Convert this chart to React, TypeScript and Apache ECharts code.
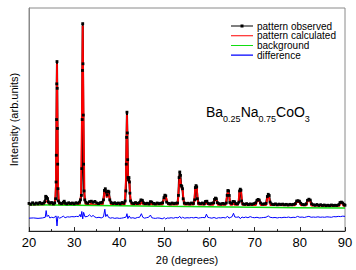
import React, { useEffect, useRef } from "react";
import * as echarts from "echarts";

const xTicks = [20, 30, 40, 50, 60, 70, 80, 90];
const legendNames = ["pattern observed", "pattern calculated", "background", "difference"];

const observed: number[][] = [
  [20,12.4],[20.4,12.0],[20.8,12.7],[21.2,12.1],[21.6,12.6],[22,12.2],[22.4,12.8],[22.8,12.3],[23.2,12.5],[23.5,13.2],[23.7,15.6],[23.9,15.2],[24.1,14.6],[24.3,13.1],[24.6,12.5],[25,12.8],[25.4,12.2],[25.7,12.7],[25.9,14.5],[26.0,22],[26.05,34],[26.1,50],[26.15,66],[26.2,76],[26.25,64],[26.3,46],[26.35,30],[26.42,19],[26.5,13.5],[26.8,12.6],[27.2,12.3],[27.6,12.9],[27.8,13.4],[28.0,12.5],[28.4,12.2],[28.8,12.7],[29.2,12.3],[29.6,12.6],[30,12.2],[30.4,12.7],[30.8,12.5],[31.2,13.0],[31.4,14.0],[31.6,16],[31.7,28],[31.78,50],[31.84,72],[31.9,93],[31.96,75],[32.02,52],[32.1,30],[32.2,18],[32.35,14],[32.6,12.9],[33,12.5],[33.4,13.2],[33.8,13.4],[34.2,12.9],[34.6,13.3],[35,12.6],[35.4,12.3],[35.8,12.7],[36.2,12.9],[36.5,14],[36.7,18.2],[36.9,19.0],[37.1,17.5],[37.3,16.2],[37.5,17.9],[37.7,17.6],[37.9,14.0],[38.2,12.8],[38.6,12.4],[39,12.7],[39.4,12.3],[39.8,12.6],[40.2,12.2],[40.6,12.8],[41,12.5],[41.3,13.5],[41.45,18],[41.55,30],[41.62,42],[41.7,53.3],[41.78,44],[41.86,32],[41.95,24],[42.05,23],[42.15,24],[42.25,22],[42.35,17],[42.5,13.5],[42.8,12.6],[43.2,12.3],[43.6,12.8],[44,12.4],[44.4,12.7],[44.8,14.0],[45.1,13.8],[45.4,12.6],[45.8,12.3],[46.2,12.5],[46.6,12.2],[46.9,13.2],[47.2,13.0],[47.6,12.4],[48,12.2],[48.4,12.6],[48.8,12.3],[49.2,12.5],[49.6,12.7],[49.9,15.0],[50.1,16.1],[50.3,15.8],[50.5,13.0],[50.9,12.4],[51.3,12.2],[51.7,12.6],[52.1,12.3],[52.5,12.5],[52.9,12.6],[53.1,16],[53.25,24],[53.4,26.5],[53.55,25],[53.7,20.5],[53.85,20],[54.0,19],[54.15,14.5],[54.4,12.6],[54.8,12.3],[55.2,12.5],[55.6,12.2],[56,12.6],[56.4,12.4],[56.7,14],[56.85,19.5],[57.0,20.4],[57.15,19.8],[57.3,14.5],[57.6,12.5],[58,12.3],[58.4,12.6],[58.8,12.2],[59.1,13.3],[59.4,13.4],[59.7,12.4],[60.1,12.2],[60.5,12.5],[60.9,12.7],[61.1,14.2],[61.3,14.8],[61.5,14.5],[61.7,12.8],[62.1,12.3],[62.5,12.1],[62.9,12.4],[63.3,12.2],[63.7,12.6],[63.9,16],[64.05,18.2],[64.2,18],[64.35,16],[64.5,12.8],[64.9,12.4],[65.2,13.3],[65.5,13.2],[65.8,12.3],[66.2,12.2],[66.5,13],[66.65,18],[66.8,18.8],[66.95,18.3],[67.1,13.5],[67.4,12.2],[67.8,12.0],[68.2,12.3],[68.6,11.9],[69,12.2],[69.4,12.0],[69.8,12.3],[70.2,12.6],[70.5,13.8],[70.75,14.2],[71.0,13.9],[71.3,12.6],[71.7,12.1],[72.1,12.2],[72.5,12.4],[72.8,15.5],[73.0,16.5],[73.2,16.0],[73.4,13],[73.8,12.1],[74.2,11.9],[74.6,12.2],[75,11.8],[75.4,12.1],[75.8,11.9],[76.2,12.1],[76.6,11.8],[77,12.0],[77.4,11.7],[77.8,12.0],[78.2,11.8],[78.6,12.0],[79,12.3],[79.3,13.5],[79.6,13.6],[79.9,13.4],[80.2,12.5],[80.6,11.9],[81,11.8],[81.4,12.2],[81.7,13.8],[82.0,14.3],[82.3,13.9],[82.6,12.2],[83,11.8],[83.4,11.6],[83.8,11.9],[84.2,11.5],[84.6,11.8],[85,11.5],[85.4,11.7],[85.8,11.4],[86.2,11.6],[86.6,11.4],[87,11.7],[87.4,11.5],[87.8,11.6],[88.2,11.5],[88.6,11.8],[88.9,12.8],[89.2,13.0],[89.5,12.6],[89.8,11.9],[90,11.6]
];

const calculated: number[][] = [
  [20,11.9],[23.3,11.9],[23.7,13.5],[24.1,13.2],[24.5,11.9],[25.75,11.9],[25.95,20],[26.08,48],[26.2,75],[26.32,47],[26.45,20],[26.65,11.9],[27.55,11.9],[27.8,12.6],[28.05,11.9],[31.25,11.9],[31.5,16],[31.7,48],[31.9,92],[32.1,48],[32.3,16],[32.55,11.9],[33.55,11.9],[33.8,12.5],[34.05,11.9],[36.35,11.9],[36.7,17.5],[36.95,18],[37.2,15],[37.5,17],[37.85,15],[38.15,11.9],[41.2,11.9],[41.45,22],[41.7,52],[41.92,26],[42.05,22],[42.2,23],[42.45,15],[42.7,11.9],[44.65,11.9],[45.0,13],[45.35,11.9],[46.75,11.9],[47.0,12.4],[47.25,11.9],[49.6,11.9],[49.95,14.8],[50.2,15.5],[50.45,14.5],[50.8,11.9],[52.95,11.9],[53.2,20],[53.4,25.5],[53.6,22],[53.8,19],[54.05,18],[54.35,11.9],[56.55,11.9],[56.8,19],[57.0,20],[57.2,19],[57.45,11.9],[58.9,11.9],[59.3,12.7],[59.7,11.9],[60.85,11.8],[61.1,14],[61.3,14.5],[61.5,14],[61.8,11.8],[63.6,11.8],[63.9,16.5],[64.1,17.5],[64.3,16.5],[64.6,11.8],[65.05,11.8],[65.3,12.6],[65.55,11.8],[66.35,11.8],[66.6,17.5],[66.8,18.3],[67.0,17.5],[67.25,11.8],[70.25,11.6],[70.55,13.5],[70.8,13.7],[71.05,13.4],[71.35,11.6],[72.55,11.6],[72.8,15],[73.0,16],[73.2,15],[73.45,11.6],[78.95,11.5],[79.3,13],[79.6,13.1],[79.9,13],[80.25,11.5],[81.45,11.5],[81.75,13.6],[82.0,14],[82.25,13.6],[82.55,11.4],[88.75,11.3],[89.0,12.5],[89.2,12.7],[89.4,12.5],[89.65,11.3],[90,11.3]
];

const background: number[][] = [
  [20,11.8],[30,11.6],[40,11.4],[50,11.1],[60,10.9],[70,10.7],[80,10.5],[90,10.3]
];

const difference: number[][] = [
  [20,5.8],[21,5.9],[22,5.7],[23,5.9],[23.6,6.2],[23.8,9.2],[24.0,6.5],[24.3,7.2],[24.6,5.9],[25,6.2],[25.5,6.0],[26.0,6.8],[26.2,2.3],[26.4,6.6],[26.8,5.8],[27.2,6.2],[27.6,6.7],[28,6.0],[28.5,6.4],[29,6.3],[29.5,6.5],[30,6.4],[30.5,6.6],[31,6.5],[31.3,7.5],[31.5,6.3],[31.7,8.8],[31.9,5.5],[32.1,8.4],[32.4,6.4],[33,6.6],[33.4,7.3],[33.8,6.5],[34.2,7.0],[34.6,6.3],[35,6.0],[35.5,6.2],[36,5.9],[36.5,6.4],[36.8,9.8],[37.0,6.5],[37.3,7.5],[37.6,6.2],[38,5.8],[38.5,6.0],[39,5.7],[39.5,5.9],[40,5.7],[40.5,5.8],[41,6.0],[41.5,6.3],[41.7,7.8],[41.9,5.6],[42.2,6.8],[42.5,5.8],[43,6.0],[43.5,5.7],[44,6.1],[44.5,6.2],[44.9,7.8],[45.2,6.2],[45.6,5.8],[46,6.0],[46.5,6.2],[46.9,7.2],[47.2,6.0],[47.6,5.8],[48,5.7],[48.5,5.9],[49,5.8],[49.5,5.5],[50,6.0],[50.3,5.4],[50.6,5.9],[51,5.8],[51.5,6.0],[52,5.8],[52.5,6.1],[53,5.9],[53.4,6.6],[53.7,5.7],[54,6.2],[54.5,5.8],[55,6.0],[55.5,5.9],[56,6.1],[56.5,5.9],[57,6.2],[57.5,5.8],[58,6.0],[58.5,6.1],[59,6.0],[59.3,7.6],[59.6,6.2],[60,6.0],[60.5,5.8],[61,6.1],[61.5,5.7],[62,6.0],[62.5,5.9],[63,6.1],[63.5,5.9],[64,6.6],[64.3,5.8],[64.7,6.2],[65,6.5],[65.3,8.0],[65.6,6.3],[66,6.2],[66.5,6.4],[66.8,5.6],[67.2,6.3],[67.6,6.0],[68,6.3],[68.5,6.0],[69,6.5],[69.5,6.1],[70,6.0],[70.5,6.2],[71,5.9],[71.5,6.0],[72,6.1],[72.5,6.2],[73,6.8],[73.4,6.2],[74,6.0],[74.5,6.1],[75,5.9],[75.5,6.1],[76,6.0],[76.5,6.2],[77,6.1],[77.5,6.3],[78,6.0],[78.5,6.2],[79,6.1],[79.5,6.6],[80,6.2],[80.5,6.3],[81,6.1],[81.5,6.4],[82,6.6],[82.5,6.2],[83,6.3],[83.5,6.2],[84,6.4],[84.5,6.2],[85,6.3],[85.5,6.2],[86,6.4],[86.5,6.3],[87,6.2],[87.5,6.5],[88,6.4],[88.5,6.6],[89,6.5],[89.5,6.7],[90,6.6]
];

// legend icons: tiny corner specks fix the bounding box to 22x8 so the line stays thin
const lineIcon = "path://M0,0h0.01v0.01h-0.01z M0,3.5h22v1.1h-22z M21.99,7.99h0.01v0.01h-0.01z";
const obsIcon = "path://M0,0h0.01v0.01h-0.01z M0,3.5h22v1.1h-22z M9.5,2.5h3v3h-3z M21.99,7.99h0.01v0.01h-0.01z";

export default function App() {
  const ref = useRef<HTMLDivElement>(null);
  useEffect(() => {
    if (!ref.current) return;
    const chart = echarts.init(ref.current, null, { renderer: "svg" });
    const font = "Liberation Sans, Arial, sans-serif";
    chart.setOption({
      animation: false,
      textStyle: { fontFamily: font },
      grid: {
        left: 27, right: 11, top: 8, bottom: 36,
        show: true, borderColor: "#8a8a8a", borderWidth: 1,
      },
      legend: {
        data: [
          { name: legendNames[0], icon: obsIcon },
          { name: legendNames[1], icon: lineIcon },
          { name: legendNames[2], icon: lineIcon },
          { name: legendNames[3], icon: lineIcon },
        ],
        orient: "vertical",
        left: 226, top: 16,
        itemWidth: 22, itemHeight: 8, itemGap: -0.3,
        textStyle: { fontSize: 10, color: "#000", fontFamily: font, padding: [0, 0, 0, -1] },
      },
      xAxis: {
        type: "value",
        min: xTicks[0], max: xTicks[xTicks.length - 1], interval: 10,
        axisLine: { lineStyle: { color: "#222", width: 1 } },
        axisTick: { inside: true, length: 4, lineStyle: { color: "#222" } },
        minorTick: { show: true, splitNumber: 2, length: 2, lineStyle: { color: "#222" } },
        splitLine: { show: false },
        axisLabel: { fontSize: 13, color: "#000", margin: 5, fontFamily: font },
        name: "2θ (degrees)",
        nameLocation: "middle",
        nameGap: 20,
        nameTextStyle: { fontSize: 11, color: "#000", fontFamily: font },
      },
      yAxis: {
        type: "value",
        min: 0, max: 100,
        axisLine: { show: true, lineStyle: { color: "#8a8a8a" } },
        axisTick: { show: false },
        axisLabel: { show: false },
        splitLine: { show: false },
        name: "Intensity (arb.units)",
        nameLocation: "middle",
        nameGap: 10,
        nameTextStyle: { fontSize: 11, color: "#000", fontFamily: font },
      },
      series: [
        {
          name: legendNames[0], type: "line", data: observed,
          showSymbol: true, showAllSymbol: true, symbol: "rect", symbolSize: 2.8,
          itemStyle: { color: "#000" },
          lineStyle: { color: "#000", width: 2 },
        },
        {
          name: legendNames[1], type: "line", data: calculated,
          showSymbol: false, symbol: "none",
          itemStyle: { color: "#ff0000" },
          lineStyle: { color: "#ff0000", width: 1.8 },
        },
        {
          name: legendNames[2], type: "line", data: background,
          showSymbol: false, symbol: "none",
          itemStyle: { color: "#11dd11" },
          lineStyle: { color: "#11dd11", width: 1.5 },
        },
        {
          name: legendNames[3], type: "line", data: difference,
          showSymbol: false, symbol: "none",
          itemStyle: { color: "#0000ff" },
          lineStyle: { color: "#0000ff", width: 1 },
        },
      ],
      graphic: [
        {
          type: "text",
          left: 206, top: 105,
          style: {
            text: "{m|Ba}{s|0.25}{m|Na}{s|0.75}{m|CoO}{s|3}",
            rich: {
              m: { fontSize: 14, fontFamily: font, fill: "#000", padding: [0, 0, 4, 0], verticalAlign: "bottom" },
              s: { fontSize: 9, fontFamily: font, fill: "#000", verticalAlign: "bottom" },
            },
          },
        },
      ],
    });
    return () => chart.dispose();
  }, []);
  return <div ref={ref} style={{ width: 356, height: 270, position: "absolute", left: 0, top: 0 }} />;
}
